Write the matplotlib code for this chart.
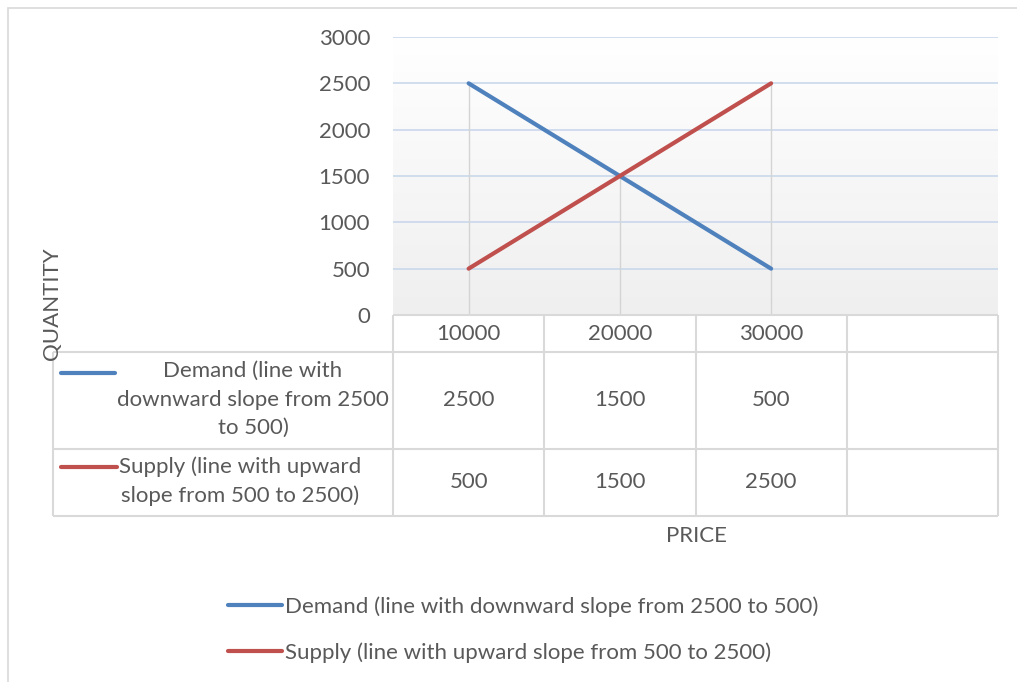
import numpy as np
import matplotlib
matplotlib.use('Agg')
import matplotlib.pyplot as plt
from matplotlib.patches import Rectangle

# data
price_labels = ['10000', '20000', '30000', '']
demand = [2500, 1500, 500]
supply = [500, 1500, 2500]
demand_name = 'Demand (line with downward slope from 2500 to 500)'
supply_name = 'Supply (line with upward slope from 500 to 2500)'
demand_wrapped = 'Demand (line with\ndownward slope from 2500\nto 500)'
supply_wrapped = 'Supply (line with upward\nslope from 500 to 2500)'
y_ticks = [0, 500, 1000, 1500, 2000, 2500, 3000]

BLUE = '#4F81BD'
RED = '#C0504D'
TXT = '#595959'
BORDER = '#D9D9D9'
FS = 16

plt.rcParams['font.family'] = ['Lato', 'DejaVu Sans']

W, H = 1017, 682
fig = plt.figure(figsize=(W / 100, H / 100), dpi=100)

def fx(px):
    return px / W

def fy(py):
    return 1 - py / H

# chart border (only left/top show inside the picture)
fig.patches.append(Rectangle((fx(8), fy(H + 5)), 1.2, fy(7.5) - fy(H + 5),
                             transform=fig.transFigure, fill=False,
                             edgecolor=BORDER, lw=1.2))

# plot area
ax = fig.add_axes([fx(393), fy(315), fx(998) - fx(393), fy(37) - fy(315)])
n_cat = len(price_labels)
x = np.arange(len(demand))
ax.set_xlim(-0.5, n_cat - 0.5)
ax.set_ylim(0, 3000)

# gradient background
grad = np.linspace(0, 1, 256).reshape(-1, 1)
ax.imshow(grad, extent=(-0.5, n_cat - 0.5, 0, 3000), aspect='auto',
          cmap=matplotlib.colors.LinearSegmentedColormap.from_list('bg', ['#EFEFEF', '#FFFFFF']),
          origin='lower', zorder=0)

for t in y_ticks[1:]:
    ax.axhline(t, color='#C9D8EC', lw=1.2, zorder=1)
ax.vlines(x, 0, np.maximum(demand, supply), color='#D4D4D4', lw=1, zorder=1)

l1, = ax.plot(x, demand, color=BLUE, lw=3, solid_capstyle='round', zorder=3)
l2, = ax.plot(x, supply, color=RED, lw=3, solid_capstyle='round', zorder=3)

ax.set_yticks(y_ticks)
ax.set_yticklabels([str(t) for t in y_ticks], fontsize=FS, color=TXT)
ax.tick_params(axis='y', length=0, pad=16.5)
ax.set_xticks([])
for s in ax.spines.values():
    s.set_visible(False)

# data table under the plot
row_edges = [0, 37, 134, 201]   # header, demand row, supply row
tx = fig.add_axes([fx(53), fy(516), fx(998) - fx(53), fy(315) - fy(516)])
unit = 605 / n_cat
left_edge = -0.5 - (393 - 53) / unit
tx.set_xlim(left_edge, n_cat - 0.5)
tx.set_ylim(row_edges[-1], 0)
tx.axis('off')

col_edges = np.arange(n_cat + 1) - 0.5
lk = dict(color=BORDER, lw=1.5, clip_on=False)
tx.hlines(row_edges[0], col_edges[0], col_edges[-1], **lk)
tx.hlines(row_edges[1:], left_edge, col_edges[-1], **lk)
tx.vlines(col_edges, row_edges[0], row_edges[-1], **lk)
tx.vlines(left_edge, row_edges[1], row_edges[-1], **lk)

def mid(i):
    return (row_edges[i] + row_edges[i + 1]) / 2

for i, lab in enumerate(price_labels):
    tx.text(i, mid(0), lab, ha='center', va='center', fontsize=FS, color=TXT)
for i, v in enumerate(demand):
    tx.text(i, mid(1), str(v), ha='center', va='center', fontsize=FS, color=TXT)
for i, v in enumerate(supply):
    tx.text(i, mid(2), str(v), ha='center', va='center', fontsize=FS, color=TXT)

def cx(px):
    return -0.5 + (px - 393) / unit

tx.text(cx(253), mid(1) - 1, demand_wrapped, ha='center', va='center',
        fontsize=FS, color=TXT, linespacing=1.52)
tx.text(cx(240), mid(2) - 1, supply_wrapped, ha='center', va='center',
        fontsize=FS, color=TXT, linespacing=1.52)
tx.plot([cx(61), cx(115)], [373 - 315] * 2, color=BLUE, lw=3,
        solid_capstyle='round', clip_on=False)
tx.plot([cx(61), cx(117)], [467 - 315] * 2, color=RED, lw=3,
        solid_capstyle='round', clip_on=False)

# axis titles
fig.text(fx(52), fy(304), 'QUANTITY', rotation=90, ha='center', va='center',
         fontsize=FS, color=TXT)
fig.text(fx(696), fy(536), 'PRICE', ha='center', va='center',
         fontsize=FS, color=TXT)

leg = fig.legend([l1, l2], [demand_name, supply_name], loc='upper left',
                 bbox_to_anchor=(fx(228), fy(596)), frameon=False,
                 fontsize=FS, labelcolor=TXT, handlelength=2.45,
                 handletextpad=0.12, labelspacing=1.15, borderaxespad=0,
                 borderpad=0)

fig.savefig('out.png', dpi=100)
